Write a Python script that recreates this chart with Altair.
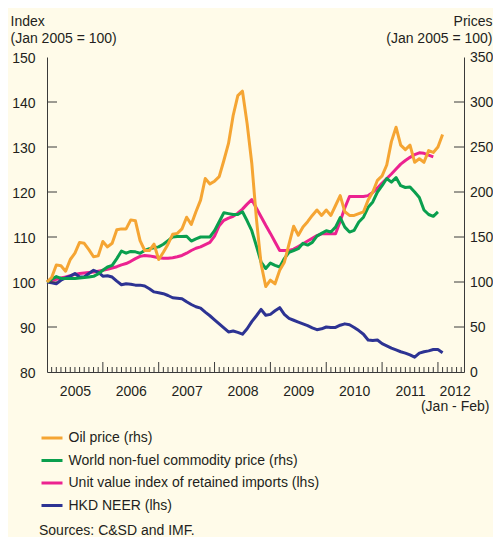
import json
import altair as alt
import pandas as pd

# ---------------- data (monthly, Jan 2005 = month 0) ----------------
SERIES = ["Oil price (rhs)",
          "World non-fuel commodity price (rhs)",
          "Unit value index of retained imports (lhs)",
          "HKD NEER (lhs)"]
COLORS = ["#F5A533", "#0A9F4E", "#EC2290", "#2D3393"]

oil = [100, 105, 119, 118, 112, 125, 132, 144, 143, 136, 128, 129,
       145, 139, 143, 158, 159, 159, 169, 168, 146, 135, 135, 142,
       125, 133, 142, 153, 154, 159, 172, 164, 178, 191, 215, 209,
       212, 217, 235, 254, 285, 307, 312, 276, 232, 170, 120, 95,
       102, 98, 113, 122, 142, 162, 152, 161, 167, 174, 180, 174,
       180, 174, 185, 196, 178, 174, 174, 176, 178, 191, 200, 213,
       218, 230, 256, 272, 252, 247, 252, 233, 237, 233, 246, 244,
       250, 264]

commodity = [100, 103, 106, 104, 104, 104, 104, 104.4, 105, 105.5, 106.3, 109,
             113, 116.7, 118.5, 126, 134.4, 132, 134, 133.5, 132, 135, 137, 138,
             139, 142, 146, 150, 150.5, 150.5, 150.8, 145.5, 148, 150, 150, 150,
             157, 167, 177, 176, 175, 175, 178, 168, 157, 140, 122, 115,
             121, 118.5, 116.7, 126, 133, 135, 137, 143, 141, 144, 151, 154,
             157, 155.5, 161, 171.5, 161, 155.5, 157.4, 166.7, 172, 183, 189, 200,
             207, 215, 211, 216, 207, 205, 205.6, 200, 194, 180, 175, 173,
             178]

imports_uvi = [100, 100.3, 100.6, 100.9, 101.1, 101.4, 101.7, 101.9, 102.0, 102.1, 102.2, 102.4,
               102.6, 102.8, 103.1, 103.4, 103.8, 104.1, 104.6, 105.2, 105.7, 105.9, 105.8, 105.6,
               105.4, 105.3, 105.3, 105.4, 105.6, 105.9, 106.4, 107.0, 107.5, 107.8, 108.3, 108.8,
               110.2, 112.5, 113.7, 114.2, 114.6, 115.3, 116.2, 117.3, 118.3, 116.4, 114.5, 112.6,
               110.8, 108.9, 107.0, 107.0, 107.0, 107.3, 107.9, 108.5, 109.1, 109.7, 110.3, 110.7,
               110.7, 110.7, 110.7, 113.5, 116.5, 119.0, 119.0, 119.0, 119.0, 119.2, 119.9, 120.9,
               122.0, 123.0, 124.0, 125.1, 126.2, 127.0, 127.7, 128.3, 128.7, 128.6, 128.2, 127.8]

neer = [100, 99.8, 99.6, 100.4, 100.9, 101.3, 101.9, 101.1, 101.1, 101.9, 102.6, 102.2,
        101.3, 101.4, 101.1, 100.2, 99.4, 99.6, 99.5, 99.3, 99.3, 99.1, 98.5, 97.8,
        97.6, 97.4, 97.0, 96.5, 96.4, 96.3, 95.6, 95.0, 94.5, 94.2, 93.3, 92.5,
        91.6, 90.7, 89.8, 88.9, 89.1, 88.8, 88.4, 89.6, 91.2, 92.5, 93.9, 92.6,
        92.8, 93.6, 94.3, 92.8, 91.9, 91.5, 91.1, 90.7, 90.3, 89.8, 89.4, 89.6,
        90.0, 89.9, 89.9, 90.4, 90.7, 90.5, 89.9, 89.2, 88.4, 87.1, 87.0, 87.1,
        86.3, 85.8, 85.3, 84.9, 84.5, 84.2, 83.8, 83.3, 84.2, 84.5, 84.7, 85.0,
        85.0, 84.3]

# axis ticks / labels
x_label_pos = [6, 18, 30, 42, 54, 66, 78, 87.6]
x_label_text = ["2005", "2006", "2007", "2008", "2009", "2010", "2011", "2012\n(Jan - Feb)"]
x_major_ticks = [12, 24, 36, 48, 60, 72, 84]
x_minor_ticks = [m for m in range(1, 90) if m % 12 != 0]
left_ticks = [90, 100, 110, 120, 130, 140]
left_labels = [80, 90, 100, 110, 120, 130, 140, 150]
right_ticks = [50, 100, 150, 200, 250, 300]
right_labels = [0, 50, 100, 150, 200, 250, 300, 350]

# ---------------- styling ----------------
W, H = 417, 315
FONT = "Liberation Sans"
TXT = "#231F20"
AX = "#3A3A3A"
BG = "#FFFBE9"
FS = 14


def frame(name, vals):
    return pd.DataFrame({"month": list(range(len(vals))), "value": vals, "series": name})


lhs = pd.concat([frame(SERIES[2], imports_uvi), frame(SERIES[3], neer)])
rhs = pd.concat([frame(SERIES[1], commodity), frame(SERIES[0], oil)])

expr = ""
for p, t in zip(x_label_pos, x_label_text):
    expr += f"datum.value == {p} ? {json.dumps(t.split(chr(10)))} : "
expr += "''"

x_axis = alt.Axis(values=x_label_pos, labelExpr=expr, ticks=False, tickSize=0, grid=False,
                  title=None, labelPadding=12, labelFontSize=FS, labelLineHeight=15,
                  labelFlush=False, labelOverlap=False, labelBound=False)
x_enc = alt.X("month:Q", scale=alt.Scale(domain=[0, 89.6], nice=False, zero=False), axis=x_axis)

yl_axis = alt.Axis(values=left_labels, ticks=False, tickSize=0, grid=False,
                   title=["Index", "(Jan 2005 = 100)"], titleAngle=0, titleAlign="left",
                   titleBaseline="alphabetic", titleX=-37, titleY=-32, titleFontWeight="normal",
                   titleFontSize=FS, titleLineHeight=17.5, labelPadding=12, labelFontSize=FS,
                   labelOffset=1, labelFlush=False, labelOverlap=False)
yl_enc = alt.Y("value:Q", scale=alt.Scale(domain=[80, 150], nice=False, zero=False), axis=yl_axis)

yr_axis = alt.Axis(orient="right", values=right_labels, ticks=False, tickSize=0, grid=False,
                   title=["Prices", "(Jan 2005 = 100)"], titleAngle=0, titleAlign="right",
                   titleBaseline="alphabetic", titleX=28, titleY=-32, titleFontWeight="normal",
                   titleFontSize=FS, titleLineHeight=17.5, labelPadding=5.5, labelFontSize=FS,
                   labelFlush=False, labelOverlap=False)
yr_enc = alt.Y("value:Q", scale=alt.Scale(domain=[0, 350], nice=False, zero=False), axis=yr_axis)

legend = alt.Legend(orient="none", legendX=-7, legendY=369, direction="vertical", title=None,
                    symbolType="stroke", symbolStrokeWidth=3, symbolSize=441,
                    labelFontSize=FS, labelOffset=4.5, rowPadding=3.5, padding=0,
                    labelLimit=0, labelColor=TXT, labelFont=FONT)
color_enc = alt.Color("series:N", scale=alt.Scale(domain=SERIES, range=COLORS), legend=legend)
order_enc = alt.Order("month:Q")

lhs_lines = alt.Chart(lhs).mark_line(strokeWidth=3, strokeJoin="round").encode(
    x=x_enc, y=yl_enc, color=color_enc, detail="series:N", order=order_enc)
rhs_lines = alt.Chart(rhs).mark_line(strokeWidth=3, strokeJoin="round").encode(
    x=x_enc, y=yr_enc, color=color_enc, detail="series:N", order=order_enc)

left_tick_rules = alt.Chart(pd.DataFrame({"value": left_ticks})).mark_rule(
    color=AX, strokeWidth=1).encode(y=yl_enc, x=alt.value(0), x2=alt.value(10))
right_tick_rules = alt.Chart(pd.DataFrame({"value": right_ticks})).mark_rule(
    color=AX, strokeWidth=1).encode(y=yr_enc, x=alt.value(W - 10), x2=alt.value(W))
minor_rules = alt.Chart(pd.DataFrame({"month": x_minor_ticks})).mark_rule(
    color=AX, strokeWidth=1).encode(x=x_enc, y=alt.value(H - 5), y2=alt.value(H))
major_rules = alt.Chart(pd.DataFrame({"month": x_major_ticks})).mark_rule(
    color=AX, strokeWidth=1).encode(x=x_enc, y=alt.value(H - 10), y2=alt.value(H))

left_part = alt.layer(lhs_lines, left_tick_rules, minor_rules, major_rules)
right_part = alt.layer(rhs_lines, right_tick_rules)

chart = alt.layer(left_part, right_part).resolve_scale(y="independent").properties(
    width=W, height=H,
    autosize=alt.AutoSizeParams(type="none"),
    padding={"left": 39, "top": 49, "right": 29, "bottom": 165},
    background=BG,
    title=alt.TitleParams("Sources: C&SD and IMF.", orient="bottom", anchor="start",
                          frame="group", dx=-8, offset=11, fontSize=FS, fontWeight="normal",
                          font=FONT, color=TXT),
).configure_axis(
    labelFont=FONT, titleFont=FONT, labelColor=TXT, titleColor=TXT,
    domainColor=AX, domainWidth=1,
).configure_view(stroke=None)

chart.save("out.html", embed_options={"renderer": "svg", "actions": False})
